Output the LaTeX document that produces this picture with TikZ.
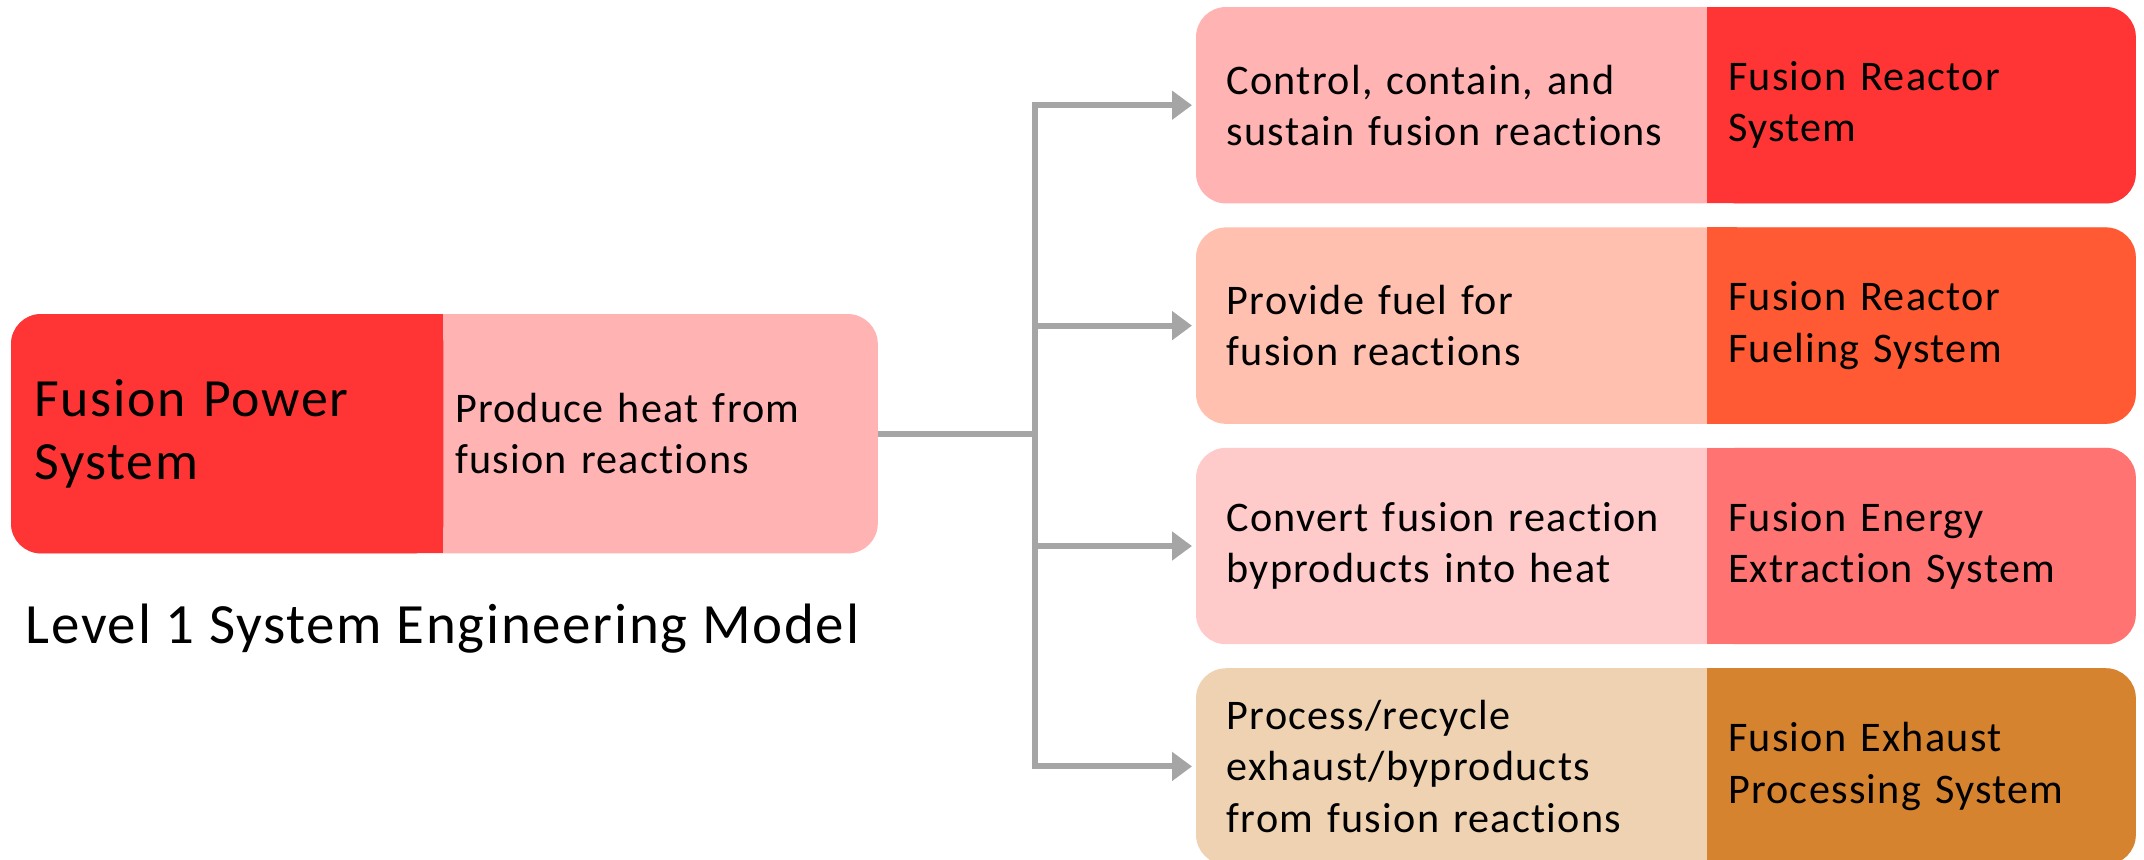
\documentclass[tikz,border=0pt]{standalone}
\usepackage{fontspec}
\setmainfont[LetterSpace=3, Ligatures=NoCommon]{Carlito}
\usepackage{xcolor}
\usetikzlibrary{positioning, backgrounds, arrows.meta}

\definecolor{redD}{HTML}{FF3535}
\definecolor{redL}{HTML}{FFB3B3}
\definecolor{orangeD}{HTML}{FF5A33}
\definecolor{orangeL}{HTML}{FFC0B0}
\definecolor{pinkD}{HTML}{FF7373}
\definecolor{pinkL}{HTML}{FFCACA}
\definecolor{brownD}{HTML}{D6832F}
\definecolor{brownL}{HTML}{EED2B2}
\definecolor{linkgray}{HTML}{A5A5A5}

\tikzset{
  fnbox/.style={minimum height=1.95cm, text width=4.5cm, inner xsep=0.3cm, inner ysep=0pt, align=left,
    font=\fontsize{12}{14.6}\selectfont},
  sysbox/.style={minimum height=1.95cm, text width=3.87cm, inner xsep=0.2cm, inner ysep=0pt, align=left,
    font=\fontsize{12}{14.6}\selectfont},
  link/.style={draw=linkgray, line width=0.06cm},
  arrow/.style={link, -{Triangle[length=0.2cm, width=0.28cm]}, shorten >=0.04cm}
}

\begin{document}
\begin{tikzpicture}
\useasboundingbox (0,0) rectangle (21.44,-8.59);

% level 1
\node[minimum height=2.38cm, text width=3.85cm, inner xsep=0.23cm, inner ysep=0pt, align=left,
  font=\fontsize{15.3}{18}\selectfont, anchor=north west] (fps) at (0.11,-3.14) {Fusion Power\\ System};
\node[right=0cm of fps, minimum height=2.38cm, text width=4.11cm, inner xsep=0.11cm, inner ysep=0pt, align=left,
  font=\fontsize{12}{14.6}\selectfont] (heat) {Produce heat from\\ fusion reactions};
\node[anchor=west, inner sep=0pt, font=\fontsize{16.2}{19}\selectfont] (model) at (0.25,-6.29) {Level 1 System Engineering Model};

% subsystems
\node[fnbox, anchor=north west] (reactorfn) at (11.96,-0.07) {Control, contain, and\\ sustain fusion reactions};
\node[sysbox, right=0cm of reactorfn] (reactorsys) {Fusion Reactor\\ System};
\node[fnbox, below=0.24cm of reactorfn] (fuelfn) {Provide fuel for\\ fusion reactions};
\node[sysbox, right=0cm of fuelfn] (fuelsys) {Fusion Reactor\\ Fueling System};
\node[fnbox, below=0.24cm of fuelfn] (energyfn) {Convert fusion reaction\\ byproducts into heat};
\node[sysbox, right=0cm of energyfn] (energysys) {Fusion Energy\\ Extraction System};
\node[fnbox, below=0.24cm of energyfn] (exhaustfn) {Process/recycle\\ exhaust/byproducts\\ from fusion reactions};
\node[sysbox, right=0cm of exhaustfn] (exhaustsys) {Fusion Exhaust\\ Processing System};

\begin{pgfonlayer}{background}
  \fill[redL, rounded corners=0.3cm] (fps.north west) rectangle (heat.south east);
  \fill[redD, rounded corners=0.3cm] (fps.north west) rectangle (fps.south east);
  \fill[redD] ([xshift=-0.3cm]fps.north east) rectangle (fps.south east);
  \foreach \r/\lc/\dc in {reactor/redL/redD, fuel/orangeL/orangeD, energy/pinkL/pinkD, exhaust/brownL/brownD} {
    \fill[\lc, rounded corners=0.3cm] (\r fn.north west) rectangle (\r sys.south east);
    \fill[\dc, rounded corners=0.3cm] (\r sys.north west) rectangle (\r sys.south east);
    \fill[\dc] (\r sys.north west) rectangle ([xshift=0.3cm]\r sys.south west);
  }
\end{pgfonlayer}

% connectors
\coordinate[right=1.57cm of heat] (hub);
\draw[link] (heat.east) -- (hub);
\draw[link, line cap=rect] (hub |- reactorfn.west) -- (hub |- exhaustfn.west);
\foreach \r in {reactor, fuel, energy, exhaust}
  \draw[arrow] (hub |- \r fn.west) -- (\r fn.west);
\end{tikzpicture}
\end{document}
